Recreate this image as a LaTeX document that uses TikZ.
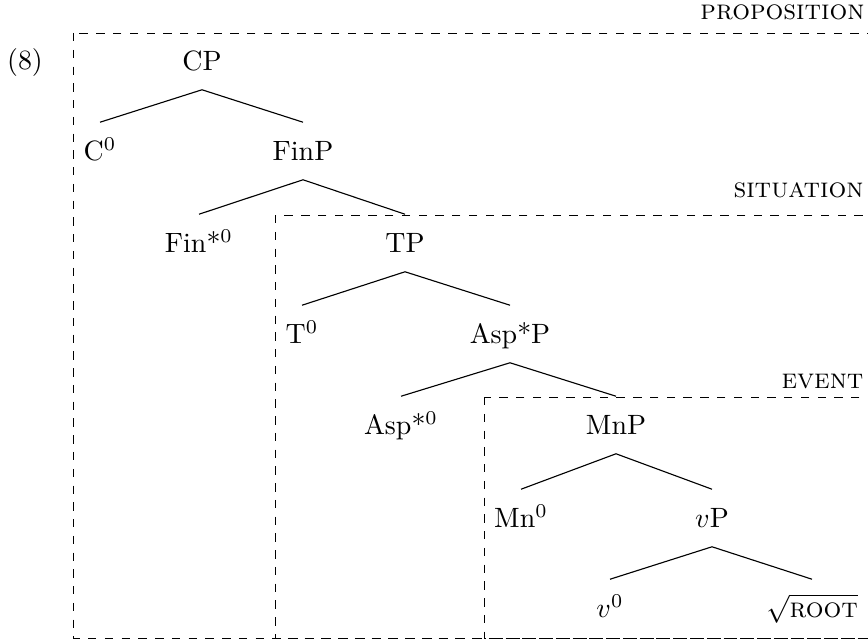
\documentclass[tikz,border=0pt]{standalone}
\begin{document}
\begin{tikzpicture}[x=0.358pt, y=-0.358pt,
  cat/.style={inner sep=0pt, text height=6.83pt, text depth=0pt, minimum height=20.2pt},
  dombox/.style={dashed, line width=0.35pt},
  dlabel/.style={anchor=base east, inner sep=0pt},
  branch/.style={line width=0.4pt}]
\useasboundingbox (0,0) rectangle (868,641);
\clip (0,0) rectangle (868,641);
% domain boxes
\draw[dombox] (73,33) rectangle (900,638);
\draw[dombox] (275,215) rectangle (900,638);
\draw[dombox] (484,397) rectangle (900,638);
\node[dlabel] (lprop) at (865,20) {\textsc{proposition}};
\node[dlabel] (lsit) at (864,197) {\textsc{situation}};
\node[dlabel] (levt) at (864,388) {\textsc{event}};
\node[anchor=base, inner sep=0pt] (ex) at (25,70) {(8)};
% tree nodes
\node[cat] (cp) at (202,61) {CP};
\node[cat] (c0) at (100,151) {C$^0$};
\node[cat] (finp) at (303,151) {FinP};
\node[cat] (fin0) at (199,243) {Fin*$^0$};
\node[cat] (tp) at (405,243) {TP};
\node[cat] (t0) at (302,334) {T$^0$};
\node[cat] (aspp) at (510,334) {Asp*P};
\node[cat] (asp0) at (401,425) {Asp*$^0$};
\node[cat] (mnp) at (616,425) {MnP};
\node[cat] (mn0) at (521,518) {Mn$^0$};
\node[cat] (vp) at (712,518) {$v$P};
\node[cat] (v0) at (610,608) {$v^0$};
\node[cat] (root) at (812,608) {$\sqrt{\textsc{root}}$};
% branches
\draw[branch] (c0.north) -- (cp.south) -- (finp.north);
\draw[branch] (fin0.north) -- (finp.south) -- (tp.north);
\draw[branch] (t0.north) -- (tp.south) -- (aspp.north);
\draw[branch] (asp0.north) -- (aspp.south) -- (mnp.north);
\draw[branch] (mn0.north) -- (mnp.south) -- (vp.north);
\draw[branch] (v0.north) -- (vp.south) -- (root.north);
\end{tikzpicture}
\end{document}
